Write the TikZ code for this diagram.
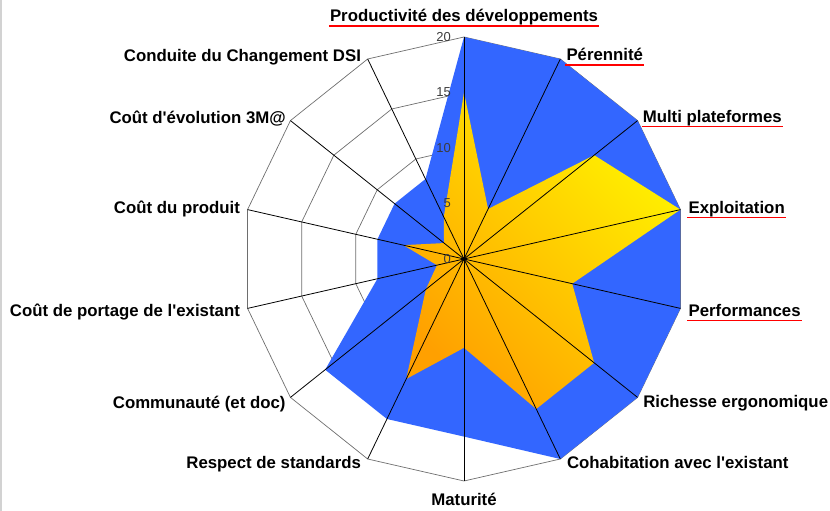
\documentclass[tikz,border=0pt]{standalone}
\usepackage{fontspec}
\newfontfamily\chartfont{Liberation Sans}
\usetikzlibrary{calc}
\definecolor{serieblue}{RGB}{51,102,255}
\definecolor{serieyellow}{RGB}{255,244,0}
\definecolor{serieorange}{RGB}{255,160,0}
\definecolor{ringgray}{RGB}{110,110,110}
\definecolor{tickgray}{RGB}{60,60,60}
\begin{document}
\begin{tikzpicture}[x=1pt,y=1pt,
    ring/.style={ringgray,line width=0.7pt},
    axe/.style={black,line width=0.8pt},
    lbl/.style={font=\chartfont\bfseries\fontsize{16.8}{18}\selectfont,inner sep=0pt},
    tick/.style={font=\chartfont\fontsize{13}{14}\selectfont,text=tickgray,inner sep=0pt,anchor=east},
    souligne/.style={red,line width=1.2pt},
  ]
\useasboundingbox (0,0) rectangle (830,511);
\draw[gray!35,line width=1.2pt] (1,0) -- (1,511);
\coordinate (O) at (464,252);
\foreach \k in {0,...,13}
  \coordinate (a\k) at ($(O)+({90-\k*360/14}:222)$);
% grid
\foreach \v in {5,10,15,20}
  \draw[ring] ($(O)+(90:{\v*11.1})$) \foreach \k in {1,...,13}{ -- ($(O)+({90-\k*360/14}:{\v*11.1})$)} -- cycle;
% series
\fill[serieblue] (a0) \foreach \v [count=\k] in {20,20,20,20,20,20,16,16,16,8,8,8,8}{ -- ($(O)+({90-\k*360/14}:{\v*11.1})$)} -- cycle;
\shade[top color=serieyellow,bottom color=serieorange,shading angle=-45] ($(O)+(90:{15*11.1})$) \foreach \v [count=\k] in {5,15,20,10,15,15,8,12,4.4,2.5,5.6,2.3,4.2}{ -- ($(O)+({90-\k*360/14}:{\v*11.1})$)} -- cycle;
\foreach \k in {0,...,13}
  \draw[axe] (O) -- (a\k);
\fill (O) circle (2);
\foreach \v in {0,5,10,15,20}
  \node[tick] (t\v) at ($(O)+(-13,{\v*11.1})$) {\v};
% labels
\foreach \k/\txt/\anc/\dx/\dy in {0/Productivité des développements/base/0/15,
    1/Pérennité/base west/6/-2, 2/Multi plateformes/base west/5/-2,
    3/Exploitation/base west/8/-3.7, 4/Performances/base west/8/-8.3,
    5/Richesse ergonomique/base west/5.5/-10, 6/Cohabitation avec l'existant/base west/6.5/-9.3,
    7/Maturité/base/0/-25, 8/Respect de standards/base east/-6.5/-9.3,
    9/Communauté (et doc)/base east/-4.7/-11, 10/Coût de portage de l'existant/base east/-7.5/-8.3,
    11/Coût du produit/base east/-7.5/-3.7, 12/Coût d'évolution 3M@/base east/-4.5/-2.7,
    13/Conduite du Changement DSI/base east/-6.5/-2.7}
  \node[lbl,anchor=\anc] (l\k) at ($(a\k)+(\dx,\dy)$) {\txt};
\foreach \k in {0,...,4}
  \draw[souligne] ($(l\k.base west)+(-1,-4)$) -- ($(l\k.base east)+(1,-4)$);
\end{tikzpicture}
\end{document}
